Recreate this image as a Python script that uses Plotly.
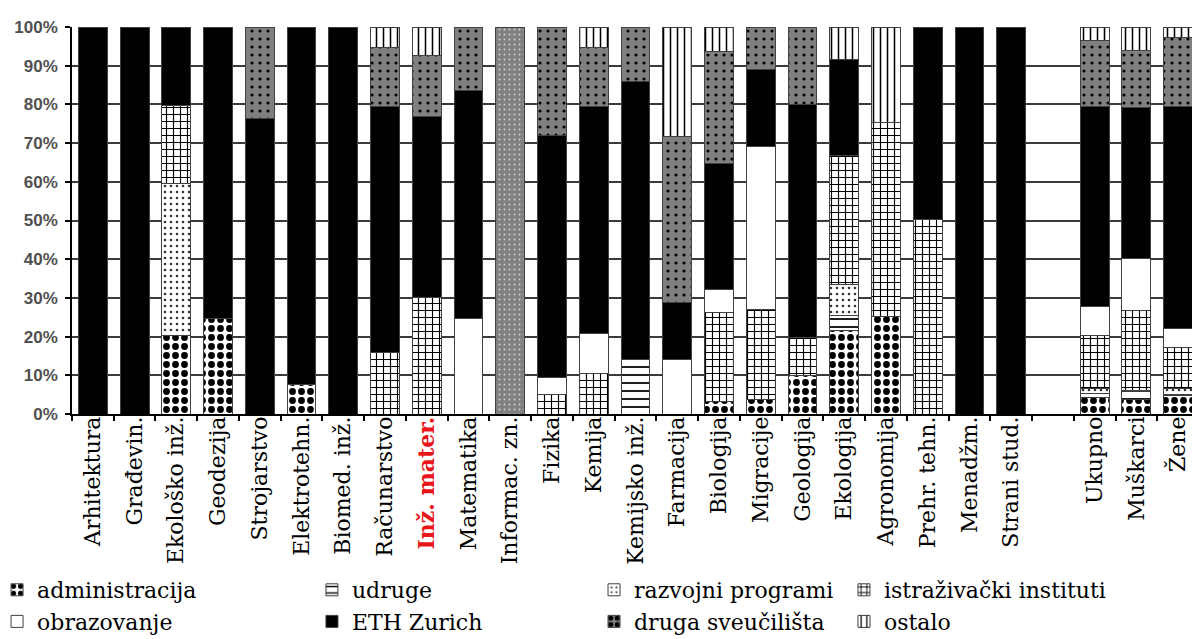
import plotly.graph_objects as go

categories = ["Arhitektura", "Građevin.", "Ekološko inž.", "Geodezija", "Strojarstvo",
              "Elektrotehn.", "Biomed. inž.", "Računarstvo", "Inž. mater.", "Matematika",
              "Informac. zn.", "Fizika", "Kemija", "Kemijsko inž.", "Farmacija", "Biologija",
              "Migracije", "Geologija", "Ekologija", "Agronomija", "Prehr. tehn.", "Menadžm.",
              "Strani stud.", " ", "Ukupno", "Muškarci", "Žene"]

administracija = [0, 0, 20.2, 24.8, 0, 7.5, 0, 0, 0, 0, 0, 0, 0, 0, 0, 3.3, 3.8, 10, 21.5, 25.3, 0, 0, 0, 0, 4.3, 3.7, 4.8]
udruge = [0, 0, 0, 0, 0, 0, 0, 0, 0, 0, 0, 0, 0, 14.1, 0, 0, 0, 0, 4.0, 0, 0, 0, 0, 0, 0.9, 2.2, 0.3]
razvojni_programi = [0, 0, 39.3, 0, 0, 0, 0, 0, 0, 0, 0, 0, 0, 0, 0, 0, 0, 0, 7.9, 0, 0, 0, 0, 0, 1.5, 0.3, 1.6]
istrazivacki_instituti = [0, 0, 20.1, 0, 0, 0, 0, 15.8, 30.2, 0, 0, 5.0, 10.4, 0, 0, 22.8, 23.2, 9.8, 33.3, 50.0, 50.2, 0, 0, 0, 13.5, 20.5, 10.6]
obrazovanje = [0, 0, 0, 0, 0, 0, 0, 0, 0, 24.8, 0, 4.5, 10.4, 0, 14.1, 6.1, 42.0, 0, 0, 0, 0, 0, 0, 0, 7.5, 13.5, 4.8]
eth_zurich = [100, 100, 20.4, 75.2, 76.3, 92.5, 100, 63.6, 46.8, 58.9, 0, 62.4, 58.7, 71.8, 14.6, 32.5, 19.9, 60.2, 25.0, 0, 49.8, 100, 100, 0, 51.8, 39.0, 57.3]
druga_sveucilista = [0, 0, 0, 0, 23.7, 0, 0, 15.3, 15.6, 16.3, 100, 28.1, 15.2, 14.1, 43.0, 29.0, 11.1, 20.0, 0, 0, 0, 0, 0, 0, 17.1, 14.8, 17.9]
ostalo = [0, 0, 0, 0, 0, 0, 0, 5.3, 7.4, 0, 0, 0, 5.3, 0, 28.3, 6.3, 0, 0, 8.3, 24.7, 0, 0, 0, 0, 3.4, 6.0, 2.7]

y_ticks = [0, 10, 20, 30, 40, 50, 60, 70, 80, 90, 100]
y_labels = ["0%", "10%", "20%", "30%", "40%", "50%", "60%", "70%", "80%", "90%", "100%"]

series = [
    ("administracija", administracija, dict(shape=".", fgcolor="black", bgcolor="white", size=9, solidity=0.45), "legend"),
    ("udruge", udruge, dict(shape="-", fgcolor="black", bgcolor="white", size=8, solidity=0.22), "legend2"),
    ("razvojni programi", razvojni_programi, dict(shape=".", fgcolor="#333333", bgcolor="white", size=6, solidity=0.15), "legend3"),
    ("istraživački instituti", istrazivacki_instituti, dict(shape="+", fgcolor="black", bgcolor="white", size=7, solidity=0.3), "legend4"),
    ("obrazovanje", obrazovanje, None, "legend"),
    ("ETH Zurich", eth_zurich, None, "legend2"),
    ("druga sveučilišta", druga_sveucilista, dict(shape=".", fgcolor="black", bgcolor="#808080", size=8, solidity=0.12), "legend3"),
    ("ostalo", ostalo, dict(shape="|", fgcolor="black", bgcolor="white", size=7, solidity=0.22), "legend4"),
]
colors = {"obrazovanje": "white", "ETH Zurich": "black"}

fig = go.Figure()
for name, vals, pat, leg in series:
    marker = dict(line=dict(color="#404040", width=1))
    if pat is None:
        marker["color"] = colors[name]
    else:
        marker["color"] = pat["bgcolor"]
        p = dict(pat, fillmode="replace")
        if name == "druga sveučilišta":
            p["size"] = [5 if c == "Informac. zn." else pat["size"] for c in categories]
            p["fgcolor"] = ["#cfcfcf" if c == "Informac. zn." else "black" for c in categories]
            p["solidity"] = [0.12 if c == "Informac. zn." else pat["solidity"] for c in categories]
        marker["pattern"] = p
    fig.add_trace(go.Bar(
        name=name, x=categories, y=[v if v else None for v in vals],
        marker=marker, legend=leg,
    ))

ticktext = [("<b><span style='color:#e8161b'>%s</span></b>" % c) if c == "Inž. mater." else c for c in categories]

fig.update_layout(
    width=1200, height=639,
    barmode="stack", bargap=0.31,
    plot_bgcolor="white", paper_bgcolor="white",
    margin=dict(l=64, r=9, t=19, b=233, autoexpand=False),
    font=dict(family="DejaVu Serif", color="black"),
    xaxis=dict(
        type="category", tickmode="array", tickvals=categories, ticktext=ticktext,
        tickangle=-90, tickfont=dict(family="DejaVu Serif", size=22, color="black"),
        ticklabelstandoff=-8,
        showline=True, linecolor="black", linewidth=1.5,
        ticks="outside", tickson="boundaries", ticklen=5, tickcolor="black", tickwidth=1.5,
        showgrid=False, automargin=False,
    ),
    yaxis=dict(
        range=[0, 100], tickmode="array", tickvals=y_ticks, ticktext=y_labels,
        tickfont=dict(family="Liberation Sans", size=17, color="#505050", weight="bold"),
        ticklabelstandoff=4,
        showline=True, linecolor="black", linewidth=1.5,
        ticks="outside", ticklen=5, tickcolor="black", tickwidth=1.5,
        showgrid=True, gridcolor="#3a3a3a", gridwidth=1.5, zeroline=False, automargin=False,
    ),
    showlegend=True,
)

leg_common = dict(orientation="v", xanchor="left", y=-0.4005, yanchor="top",
                  traceorder="normal", itemwidth=30, tracegroupgap=0,
                  font=dict(family="DejaVu Serif", size=22, color="black"),
                  bgcolor="rgba(0,0,0,0)")
fig.update_layout(
    legend=dict(leg_common, x=-0.0665),
    legend2=dict(leg_common, x=0.2129),
    legend3=dict(leg_common, x=0.4632),
    legend4=dict(leg_common, x=0.6850),
)

fig.write_html("out.html")
